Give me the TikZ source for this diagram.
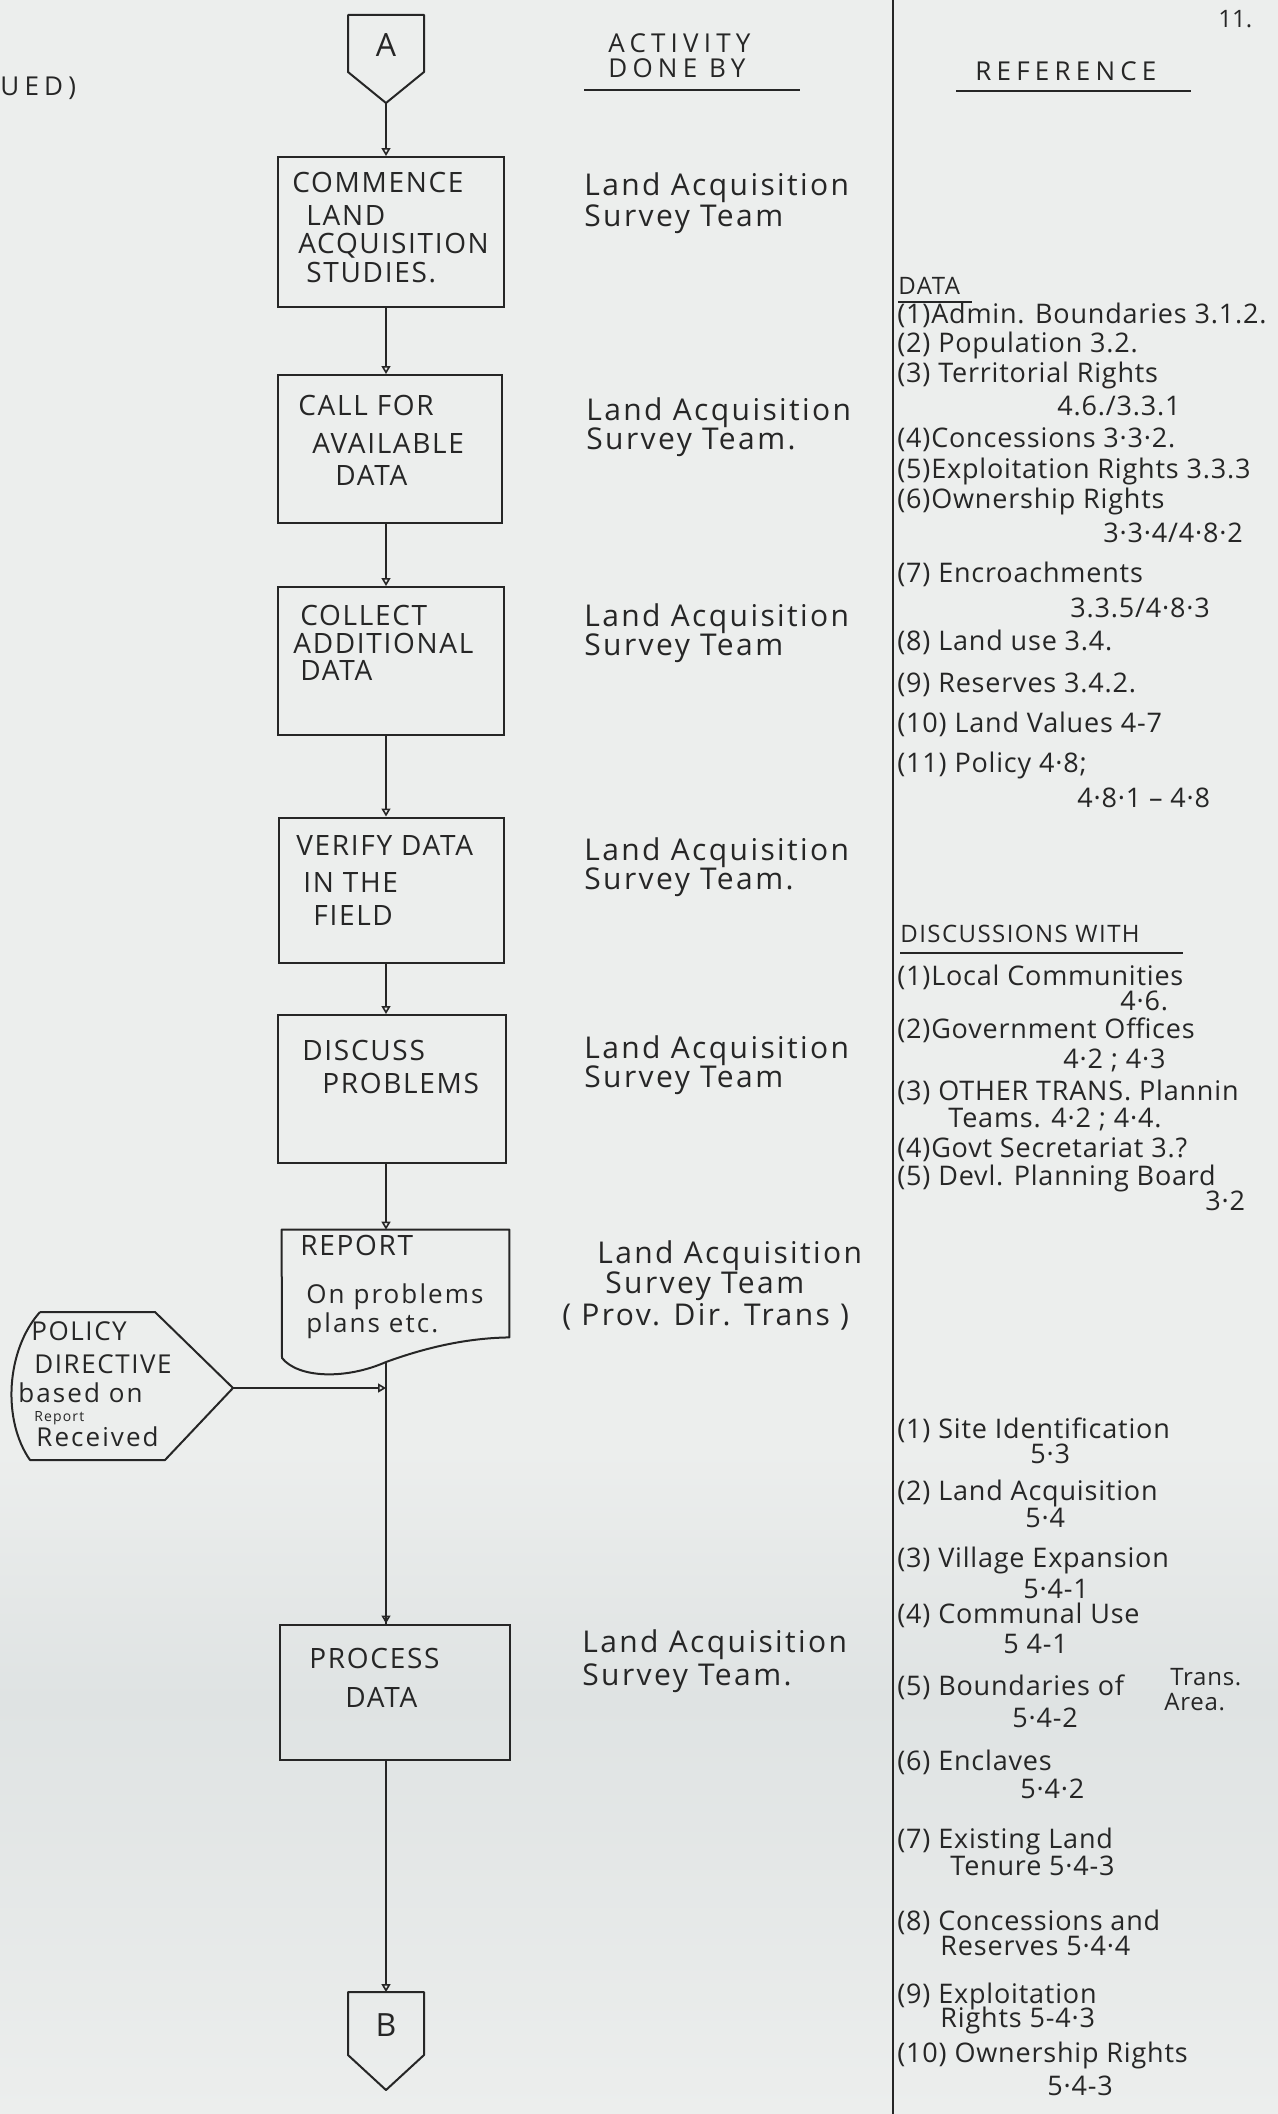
\documentclass[tikz,border=0pt]{standalone}
\usepackage{fontspec}
\setmainfont{Open Sans}
\newfontfamily\capsfam{Open Sans}[LetterSpace=6]
\newfontfamily\hdrfam{Open Sans}[LetterSpace=20]
\newfontfamily\whofam{Open Sans}[LetterSpace=8]
\newfontfamily\reffam{Open Sans}[LetterSpace=3]
\usetikzlibrary{arrows.meta,calc}
\definecolor{paper}{RGB}{236,238,237}
\definecolor{paperdk}{RGB}{223,227,227}
\definecolor{ink}{RGB}{38,38,38}
\newcommand\boxfont{\capsfam\fontsize{14pt}{16pt}\selectfont}
\newcommand\hdrfont{\hdrfam\fontsize{13pt}{15pt}\selectfont}
\newcommand\whofont{\whofam\fontsize{15pt}{17pt}\selectfont}
\newcommand\reffont{\reffam\fontsize{13.5pt}{16pt}\selectfont}
\newcommand\smallwho{\whofam\fontsize{13pt}{15pt}\selectfont}
\tikzset{
  flowbox/.style={draw=ink, line width=1pt, rectangle, inner sep=0pt},
  boxtxt/.style={anchor=mid west, inner sep=0pt, font=\boxfont, text=ink},
  hdr/.style={anchor=mid west, inner sep=0pt, font=\hdrfont, text=ink},
  who/.style={anchor=mid west, inner sep=0pt, font=\whofont, text=ink},
  reftxt/.style={anchor=mid west, inner sep=0pt, font=\reffont, text=ink},
  flow/.style={draw=ink, line width=0.8pt, -{Triangle[open,length=4pt,width=4.5pt]}},
  outline/.style={draw=ink, line width=1pt, line join=round},
  rule/.style={draw=ink, line width=0.9pt},
}
\begin{document}
\begin{tikzpicture}[x=0.5pt,y=-0.5pt]
% paper, a little darker towards the lower part of the sheet
\fill[paper] (0,0) rectangle (1278,2114);
\shade[top color=paper, bottom color=paperdk] (0,1450) rectangle (1278,1700);
\shade[top color=paperdk, bottom color=paper] (0,1700) rectangle (1278,2114);
\useasboundingbox (0,0) rectangle (1278,2114);

% column divider
\coordinate (divtop) at (893,0);
\coordinate (divbot) at (893,2114);
\draw[rule, line width=1.1pt] (divtop) -- (divbot);

% headings
\node[hdr] (cont) at (0,90) {UED)};
\node[hdr] (act1) at (608,47) {ACTIVITY};
\node[hdr] (act2) at (608,72) {DONE BY};
\draw[rule] (584,90) -- (800,90);
\node[hdr] (refh) at (975,75) {REFERENCE};
\draw[rule] (956,91) -- (1191,91);
\node[anchor=mid west, inner sep=0pt, font=\fontsize{12pt}{14pt}\selectfont, text=ink] (pg) at (1218,22) {11.};

% off-page connector A
\node[inner sep=0pt, font=\fontsize{16pt}{18pt}\selectfont, text=ink] (A) at (386,45) {A};
\draw[outline] (348,15) -- (424,15) -- (424,72) -- (386,103) -- (348,72) -- cycle;
\coordinate (Apt) at (386,103);

% process boxes
\node[flowbox, minimum width=113pt, minimum height=75pt] (b1) at (391,232) {};
\node[boxtxt] (b1a) at (292,187) {COMMENCE};
\node[boxtxt] (b1b) at (306,220) {LAND};
\node[boxtxt] (b1c) at (298,248) {ACQUISITION};
\node[boxtxt] (b1d) at (306,277) {STUDIES.};

\node[flowbox, minimum width=112pt, minimum height=74pt] (b2) at (390,449) {};
\node[boxtxt] (b2a) at (298,410) {CALL FOR};
\node[boxtxt] (b2b) at (312,448) {AVAILABLE};
\node[boxtxt] (b2c) at (335,480) {DATA};

\node[flowbox, minimum width=113pt, minimum height=74pt] (b3) at (391,661) {};
\node[boxtxt] (b3a) at (300,620) {COLLECT};
\node[boxtxt] (b3b) at (293,648) {ADDITIONAL};
\node[boxtxt] (b3c) at (300,675) {DATA};

\node[flowbox, minimum width=112.5pt, minimum height=72.5pt] (b4) at (391,890) {};
\node[boxtxt] (b4a) at (296,850) {VERIFY DATA};
\node[boxtxt] (b4b) at (303,887) {IN THE};
\node[boxtxt] (b4c) at (313,920) {FIELD};

\node[flowbox, minimum width=114pt, minimum height=74pt] (b5) at (392,1089) {};
\node[boxtxt] (b5a) at (302,1055) {DISCUSS};
\node[boxtxt] (b5b) at (322,1088) {PROBLEMS};

% report (document symbol)
\node[inner sep=0pt, minimum width=113.5pt, minimum height=53.5pt] (rep) at (395.5,1283.5) {};
\coordinate (repout) at (386,1362);
\draw[outline] (rep.north west) -- (rep.north east) -- (rep.south east)
  .. controls (470,1338) and (430,1346) .. (repout)
  .. controls (345,1380) and (298,1378) .. (282,1358) -- cycle;
\node[boxtxt] (repa) at (300,1250) {REPORT};
\node[anchor=mid west, inner sep=0pt, font=\smallwho, text=ink] (repb) at (306,1298) {On problems};
\node[anchor=mid west, inner sep=0pt, font=\smallwho, text=ink] (repc) at (306,1327) {plans etc.};

% policy directive (display symbol)
\coordinate (polpt) at (233,1388);
\draw[outline] (40,1312) -- (155,1312) -- (polpt) -- (165,1460) -- (30,1460)
  .. controls (2,1420) and (6,1350) .. (40,1312);
\node[anchor=mid west, inner sep=0pt, font=\capsfam\fontsize{13pt}{15pt}\selectfont, text=ink] (pola) at (31,1335) {POLICY};
\node[anchor=mid west, inner sep=0pt, font=\capsfam\fontsize{13pt}{15pt}\selectfont, text=ink] (polb) at (34,1368) {DIRECTIVE};
\node[anchor=mid west, inner sep=0pt, font=\smallwho, text=ink] (polc) at (18,1397) {based on};
\node[anchor=mid west, inner sep=0pt, font=\whofam\fontsize{7pt}{8pt}\selectfont, text=ink] (pold) at (34,1416) {Report};
\node[anchor=mid west, inner sep=0pt, font=\smallwho, text=ink] (pole) at (36,1441) {Received};

\node[flowbox, minimum width=115pt, minimum height=67.5pt] (b7) at (395,1692) {};
\node[boxtxt] (b7a) at (309,1663) {PROCESS};
\node[boxtxt] (b7b) at (345,1702) {DATA};

% off-page connector B
\node[inner sep=0pt, font=\fontsize{16pt}{18pt}\selectfont, text=ink] (B) at (386,2025) {B};
\draw[outline] (348,1992) -- (424,1992) -- (424,2055) -- (386,2090) -- (348,2055) -- cycle;
\coordinate (Btop) at (386,1992);

% flow connectors
\draw[flow] (Apt) -- (Apt |- b1.north);
\draw[flow] (b1.south -| Apt) -- (Apt |- b2.north);
\draw[flow] (b2.south -| Apt) -- (Apt |- b3.north);
\draw[flow] (b3.south -| Apt) -- (Apt |- b4.north);
\draw[flow] (b4.south -| Apt) -- (Apt |- b5.north);
\draw[flow] (b5.south -| Apt) -- (Apt |- rep.north);
\draw[draw=ink, line width=0.8pt] (repout) -- (repout |- b7.north);
\draw[flow] (repout |- polpt) -- (repout |- b7.north);
\draw[flow] (polpt) -- (polpt -| repout);
\draw[flow] (b7.south -| Apt) -- (Btop);

% who does each activity
\node[who] (w1a) at (584,190) {Land Acquisition};
\node[who] (w1b) at (584,221) {Survey Team};
\node[who] (w2a) at (586,415) {Land Acquisition};
\node[who] (w2b) at (586,444) {Survey Team.};
\node[who] (w3a) at (584,621) {Land Acquisition};
\node[who] (w3b) at (584,650) {Survey Team};
\node[who] (w4a) at (584,855) {Land Acquisition};
\node[who] (w4b) at (584,884) {Survey Team.};
\node[who] (w5a) at (584,1053) {Land Acquisition};
\node[who] (w5b) at (584,1082) {Survey Team};
\node[who] (w6a) at (597,1258) {Land Acquisition};
\node[who] (w6b) at (605,1288) {Survey Team};
\node[who] (w6c) at (562,1320) {( Prov. Dir. Trans )};
\node[who] (w7a) at (582,1647) {Land Acquisition};
\node[who] (w7b) at (582,1680) {Survey Team.};

% references: data
\node[anchor=mid west, inner sep=0pt, font=\capsfam\fontsize{12pt}{14pt}\selectfont, text=ink] (dh) at (898,289) {DATA};
\draw[rule] (898,302) -- (972,302);
\foreach \nm/\xx/\yy/\tx in {
  d1/897/318/{(1)Admin. Boundaries 3.1.2.},
  d2/897/347/{(2) Population 3.2.},
  d3/897/377/{(3) Territorial Rights},
  d4/1057/410/{4.6./3.3.1},
  d5/897/442/{(4)Concessions 3·3·2.},
  d6/897/473/{(5)Exploitation Rights 3.3.3},
  d7/897/503/{(6)Ownership Rights},
  d8/1103/537/{3·3·4/4·8·2},
  d9/897/577/{(7) Encroachments},
  d10/1070/612/{3.3.5/4·8·3},
  d11/897/645/{(8) Land use 3.4.},
  d12/897/687/{(9) Reserves 3.4.2.},
  d13/897/727/{(10) Land Values 4-7},
  d14/897/767/{(11) Policy 4·8;},
  d15/1077/802/{4·8·1 – 4·8}}
  \node[reftxt] (\nm) at (\xx,\yy) {\tx};

% references: discussions
\node[anchor=mid west, inner sep=0pt, font=\capsfam\fontsize{12pt}{14pt}\selectfont, text=ink] (eh) at (900,937) {DISCUSSIONS WITH};
\draw[rule] (900,953) -- (1183,953);
\foreach \nm/\xx/\yy/\tx in {
  e1/897/980/{(1)Local Communities},
  e2/1120/1005/{4·6.},
  e3/897/1033/{(2)Government Offices},
  e4/1063/1063/{4·2 ; 4·3},
  e5/897/1095/{(3) OTHER TRANS. Plannin},
  e6/948/1122/{Teams. 4·2 ; 4·4.},
  e7/897/1152/{(4)Govt Secretariat 3.?},
  e8/897/1180/{(5) Devl. Planning Board},
  e9/1205/1205/{3·2}}
  \node[reftxt] (\nm) at (\xx,\yy) {\tx};

% references: processing
\foreach \nm/\xx/\yy/\tx in {
  f1/897/1433/{(1) Site Identification},
  f2/1030/1458/{5·3},
  f3/897/1495/{(2) Land Acquisition},
  f4/1025/1522/{5·4},
  f5/897/1562/{(3) Village Expansion},
  f6/1023/1593/{5·4-1},
  f7/897/1618/{(4) Communal Use},
  f8/1003/1648/{5 4-1},
  f9/897/1690/{(5) Boundaries of},
  f10/1012/1722/{5·4-2},
  f11/897/1765/{(6) Enclaves},
  f12/1020/1793/{5·4·2},
  f13/897/1843/{(7) Existing Land},
  f14/950/1870/{Tenure 5·4-3},
  f15/897/1925/{(8) Concessions and},
  f16/940/1950/{Reserves 5·4·4},
  f17/897/1998/{(9) Exploitation},
  f18/940/2022/{Rights 5-4·3},
  f19/897/2057/{(10) Ownership Rights},
  f20/1047/2090/{5·4-3}}
  \node[reftxt] (\nm) at (\xx,\yy) {\tx};
\node[anchor=mid west, inner sep=0pt, font=\reffam\fontsize{12pt}{14pt}\selectfont, text=ink] (f9b) at (1170,1680) {Trans.};
\node[anchor=mid west, inner sep=0pt, font=\reffam\fontsize{12pt}{14pt}\selectfont, text=ink] (f9c) at (1164,1705) {Area.};
\end{tikzpicture}
\end{document}
